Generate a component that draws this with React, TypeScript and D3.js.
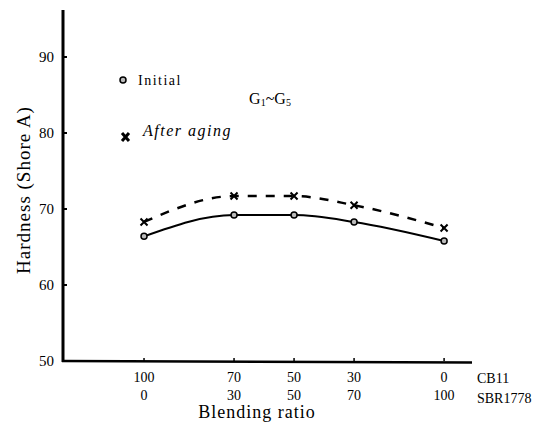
import React from "react";
import * as d3 from "d3";

const cb11 = [100, 70, 50, 30, 0];
const sbr1778 = [0, 30, 50, 70, 100];
const initial = [66.4, 69.2, 69.2, 68.3, 65.8];
const afterAging = [68.3, 71.7, 71.7, 70.5, 67.5];
const yTicks = [50, 60, 70, 80, 90];

const W = 553;
const H = 422;

export default function App() {
  const x = d3.scaleLinear().domain([127, -9.3]).range([63, 472]);
  const y = d3.scaleLinear().domain([50, 95]).range([361, 19]);
  const font = '"Liberation Serif", "DejaVu Serif", "Times New Roman", serif';

  const line = d3
    .line<number>()
    .x((_, i) => x(cb11[i]))
    .y((d) => y(d))
    .curve(d3.curveMonotoneX);

  const ts: React.CSSProperties = { fontFamily: font };

  return (
    <svg
      width={W}
      height={H}
      style={{ position: "absolute", left: 0, top: 0, background: "#fff", fontFamily: font }}
    >
      {/* axes */}
      <line x1={63} y1={y(50) + 1} x2={63} y2={10} stroke="#000" strokeWidth={3} />
      <line x1={62} y1={y(50)} x2={472} y2={y(50) + 1.5} stroke="#000" strokeWidth={2.5} />
      {yTicks.map((t) => (
        <g key={t}>
          <line x1={63} x2={67} y1={y(t)} y2={y(t)} stroke="#000" strokeWidth={2} />
          <text x={54} y={y(t)} fontSize={15} textAnchor="end" dominantBaseline="central" style={ts}>
            {t}
          </text>
        </g>
      ))}
      <text
        transform={`translate(23,${190}) rotate(-90)`}
        fontSize={19}
        textAnchor="middle"
        dominantBaseline="central"
        letterSpacing={1}
        style={ts}
      >
        Hardness (Shore A)
      </text>
      {cb11.map((c, i) => (
        <g key={c}>
          <line x1={x(c)} x2={x(c)} y1={y(50) - 3} y2={y(50)} stroke="#000" strokeWidth={1.5} />
          <text x={x(c)} y={377} fontSize={14} textAnchor="middle" dominantBaseline="central" style={ts}>
            {c}
          </text>
          <text x={x(c)} y={395} fontSize={14} textAnchor="middle" dominantBaseline="central" style={ts}>
            {sbr1778[i]}
          </text>
        </g>
      ))}
      <text x={477} y={378} fontSize={14} dominantBaseline="central" style={ts}>CB11</text>
      <text x={477} y={398} fontSize={14} dominantBaseline="central" style={ts}>SBR1778</text>
      <text x={257} y={412} fontSize={18} textAnchor="middle" dominantBaseline="central" letterSpacing={1} style={ts}>
        Blending ratio
      </text>

      {/* series */}
      <path d={line(initial) || ""} fill="none" stroke="#000" strokeWidth={2} />
      <path
        d={line(afterAging) || ""}
        fill="none"
        stroke="#000"
        strokeWidth={2.5}
        strokeDasharray="9 9"
      />
      {initial.map((v, i) => (
        <circle key={i} cx={x(cb11[i])} cy={y(v)} r={3} fill="#bbb" stroke="#000" strokeWidth={1.5} />
      ))}
      {afterAging.map((v, i) => (
        <path
          key={i}
          d={`M${x(cb11[i]) - 3.5},${y(v) - 3.5}L${x(cb11[i]) + 3.5},${y(v) + 3.5}M${x(cb11[i]) - 3.5},${y(v) + 3.5}L${x(cb11[i]) + 3.5},${y(v) - 3.5}`}
          stroke="#000"
          strokeWidth={2}
        />
      ))}

      {/* legend */}
      <circle cx={123} cy={80} r={3} fill="#bbb" stroke="#000" strokeWidth={1.5} />
      <text x={138} y={80} fontSize={14} dominantBaseline="central" letterSpacing={1.5} style={ts}>
        Initial
      </text>
      <path d="M122,133L129,141M122,141L129,133" stroke="#000" strokeWidth={3} />
      <text x={143} y={130} fontSize={16} fontStyle="italic" dominantBaseline="central" letterSpacing={1.5} style={ts}>
        After aging
      </text>
      <text x={270} y={98} fontSize={16} textAnchor="middle" dominantBaseline="central" style={ts}>
        G<tspan fontSize={10} dy={4}>1</tspan>
        <tspan dy={-4}>~G</tspan>
        <tspan fontSize={10} dy={4}>5</tspan>
      </text>
    </svg>
  );
}
